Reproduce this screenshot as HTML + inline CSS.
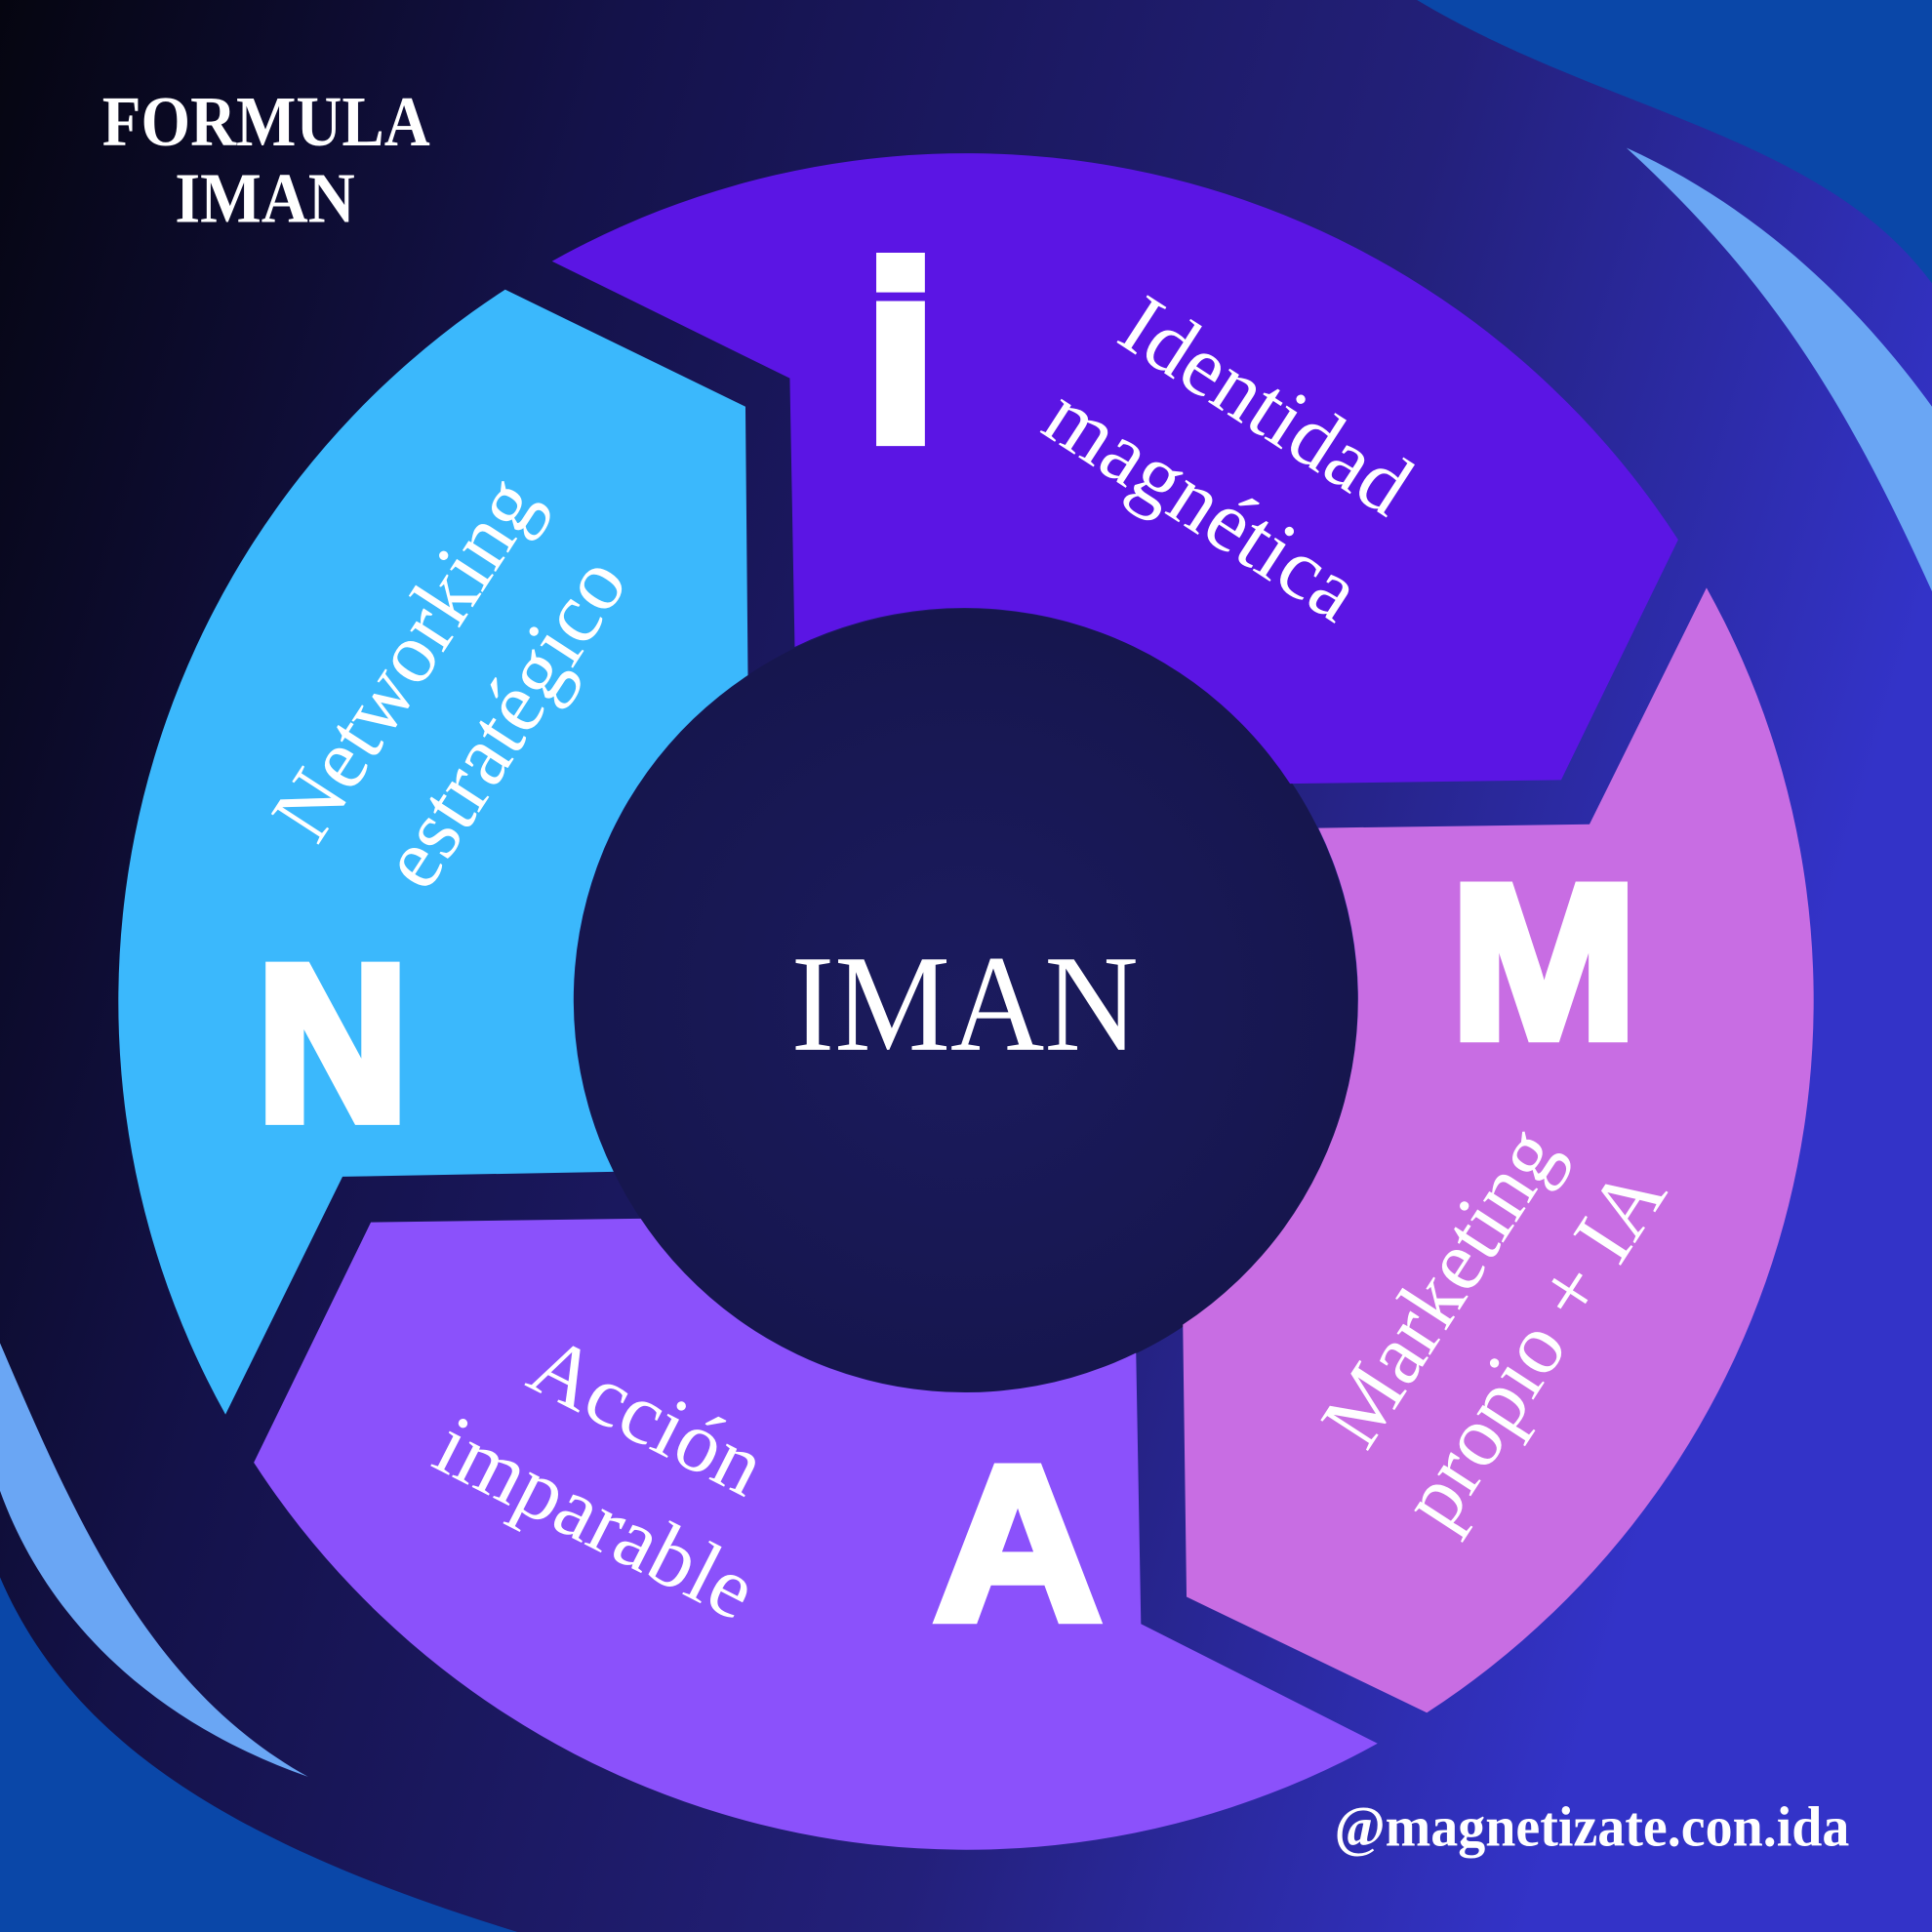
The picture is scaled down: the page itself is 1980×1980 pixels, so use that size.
<!DOCTYPE html>
<html><head><meta charset="utf-8"><style>
html,body{margin:0;padding:0;width:1980px;height:1980px;overflow:hidden;background:#0b0b2a}
svg{display:block}
</style></head><body>
<svg width="1980" height="1980" viewBox="0 0 1568 1568" xmlns="http://www.w3.org/2000/svg">
<defs>
<linearGradient id="bg" x1="0" y1="0" x2="1" y2="0.3">
<stop offset="0" stop-color="#050510"/>
<stop offset="0.3" stop-color="#14124a"/>
<stop offset="0.7" stop-color="#23207a"/>
<stop offset="1" stop-color="#3333c8"/>
</linearGradient>
<radialGradient id="ctr" cx="0.5" cy="0.5" r="0.5">
<stop offset="0" stop-color="#1b1b5e"/>
<stop offset="1" stop-color="#16164e"/>
</radialGradient>
</defs>
<rect width="1568" height="1568" fill="url(#bg)"/>
<path d="M1150 0 C1300 90 1480 110 1568 230 L1568 0 Z" fill="#0a47a8"/>
<path d="M1320 120 C1430 170 1510 250 1568 330 L1568 480 C1500 330 1440 230 1320 120 Z" fill="#6aa6f4"/>
<path d="M0 1280 C60 1420 200 1500 420 1568 L0 1568 Z" fill="#0a47a8"/>
<path d="M0 1090 C60 1230 120 1370 250 1442 C130 1400 40 1320 0 1210 Z" fill="#6aa6f4"/>
<circle cx="784" cy="812" r="318" fill="url(#ctr)"/>
<path d="M448 212 A689 689 0 0 1 1362 438 L1267 633 L1047 636 A316 316 0 0 0 645 525 L641 307 Z" fill="#5b15e4"/>
<path d="M1385 477 A689 689 0 0 1 1158 1390 L963 1296 L960 1075 A316 316 0 0 0 1070 672 L1290 669 Z" fill="#c86de3"/>
<path d="M1118 1415 A689 689 0 0 1 206 1187 L301 992 L520 989 A316 316 0 0 0 922 1098 L926 1318 Z" fill="#8b51fb"/>
<path d="M183 1148 A689 689 0 0 1 410 235 L605 330 L607 548 A316 316 0 0 0 498 951 L278 955 Z" fill="#3bb8fc"/>

<g fill="#fff" font-family="Liberation Serif, serif">
<text x="83" y="118" font-size="58" font-weight="bold" textLength="266" lengthAdjust="spacingAndGlyphs">FORMULA</text>
<text x="142" y="180" font-size="58" font-weight="bold" textLength="146" lengthAdjust="spacingAndGlyphs">IMAN</text>
<text x="783" y="852" font-size="112" text-anchor="middle" textLength="282" lengthAdjust="spacingAndGlyphs">IMAN</text>
<text x="1292" y="1498" font-size="46" font-weight="bold" text-anchor="middle" textLength="418" lengthAdjust="spacingAndGlyphs">@magnetizate.con.ida</text>

<g transform="translate(1027 330) rotate(33)" font-size="70" text-anchor="middle">
<text x="0" y="22">Identidad</text>
<text x="0" y="117">magnética</text>
</g>
<g transform="translate(330 535) rotate(-57)" font-size="70" text-anchor="middle">
<text x="0" y="22">Networking</text>
<text x="0" y="117">estratégico</text>
</g>
<g transform="translate(1170 1045) rotate(-57)" font-size="70" text-anchor="middle">
<text x="0" y="22">Marketing</text>
<text x="0" y="112">propio + IA</text>
</g>
<g transform="translate(525 1150) rotate(27)" font-size="70" text-anchor="middle">
<text x="0" y="22">Acción</text>
<text x="0" y="115">imparable</text>
</g>
</g>

<g fill="#fff" stroke="#fff" stroke-linejoin="miter" font-family="Liberation Sans, sans-serif" font-weight="bold" text-anchor="middle">
<text x="731" y="356" font-size="200" stroke-width="12">i</text>
<text x="1253" y="842" font-size="178" stroke-width="8" textLength="152" lengthAdjust="spacingAndGlyphs">M</text>
<text x="270" y="908" font-size="178" stroke-width="10" textLength="122" lengthAdjust="spacingAndGlyphs">N</text>
<text x="826" y="1314" font-size="178" stroke-width="8" textLength="136" lengthAdjust="spacingAndGlyphs">A</text>
</g>
</svg>
</body></html>
